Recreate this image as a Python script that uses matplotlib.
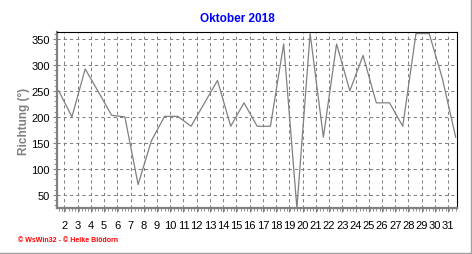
import matplotlib
matplotlib.use("Agg")
import matplotlib.pyplot as plt
from matplotlib.ticker import MultipleLocator, FixedLocator
from matplotlib.lines import Line2D

days = list(range(1, 32))
richtung = [250, 200, 292, 248, 203, 200, 70, 154, 201, 201, 182, 226, 270, 182,
            227, 182, 182, 340, 25, 360, 161, 340, 250, 318, 227, 227, 182, 360,
            360, 273, 161]
tick_labels = [str(d) for d in range(2, 32)]
title = "Oktober 2018"
ylabel = "Richtung (°)"
footer = "© WsWin32 - © Heike Blödorn"

plt.rcParams['font.family'] = ['Liberation Sans', 'DejaVu Sans']

fig = plt.figure(figsize=(4.72, 2.55), dpi=100, facecolor='white')
ax = fig.add_axes([57/472, 46/255, 400/472, 176/255])

gray = '#808080'
ax.plot(days, richtung, color=gray, lw=0.9, zorder=3)

ax.set_xlim(0.87, 31.1)
ax.set_ylim(25, 363)

tick_pos = [d - 0.57 for d in range(2, 32)]
ax.xaxis.set_major_locator(FixedLocator(tick_pos))
ax.set_xticklabels(tick_labels)
ax.xaxis.set_minor_locator(MultipleLocator(0.25))
ax.yaxis.set_major_locator(FixedLocator([50, 100, 150, 200, 250, 300, 350]))
ax.yaxis.set_minor_locator(MultipleLocator(10))

ax.tick_params(axis='both', which='major', labelsize=8, direction='out',
               length=3, width=0.8, color=gray, labelcolor='black')
ax.tick_params(axis='both', which='minor', direction='out', length=2,
               width=0.6, color=gray)
ax.tick_params(axis='x', which='major', pad=6)
ax.tick_params(axis='y', which='major', pad=2)

ax.grid(True, which='major', color=gray, linestyle=(0, (3, 3)), lw=0.75)
ax.set_axisbelow(True)

for s in ['left', 'bottom']:
    ax.spines[s].set_color(gray)
    ax.spines[s].set_linewidth(1.6)
for s in ['top', 'right']:
    ax.spines[s].set_color('black')
    ax.spines[s].set_linewidth(0.8)

fig.text(237/472, 1 - 19/255, title, color='#0000ff', fontsize=8.5,
         fontweight='bold', ha='center', va='center')
fig.text(24/472, 1 - 121/255, ylabel, color=gray, fontsize=8.5,
         fontweight='bold', rotation=90, ha='center', va='center')
fig.text(18/472, 1 - 241/255, footer, color='#ff0000', fontsize=5,
         fontweight='bold', ha='left', va='center')

# light frame at right and bottom edges
fig.add_artist(Line2D([470.5/472, 470.5/472], [1/255, 1], color='#a0a0a0',
                      lw=1.0, transform=fig.transFigure))
fig.add_artist(Line2D([0, 471/472], [1.5/255, 1.5/255], color='#a0a0a0',
                      lw=1.0, transform=fig.transFigure))

fig.savefig('out.png', dpi=100, facecolor='white')
